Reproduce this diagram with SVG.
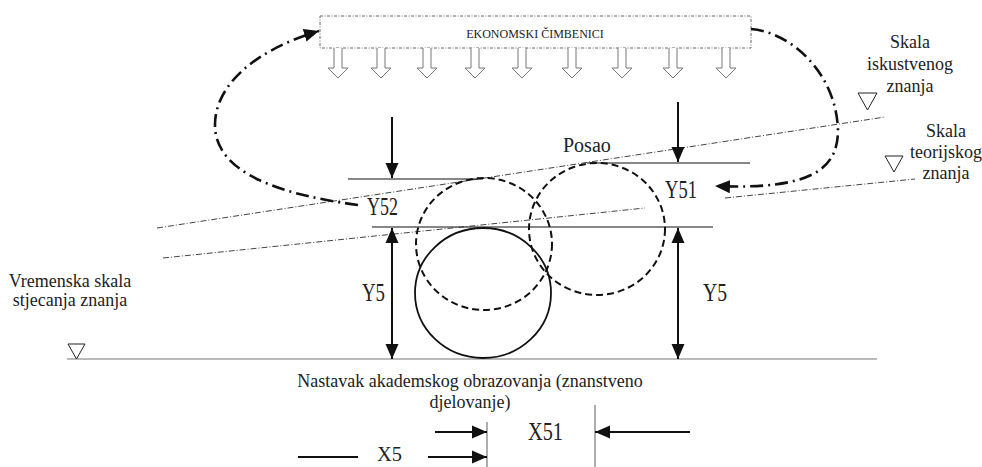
<svg xmlns="http://www.w3.org/2000/svg" width="982" height="467" viewBox="0 0 982 467" font-family="'Liberation Serif', 'DejaVu Serif', serif">
<defs>
<style>
text{font-family:"Liberation Serif","DejaVu Serif",serif;fill:#222}
.lbl{font-size:18px}
.var{font-size:25px}
.box{fill:#fff;stroke:#666;stroke-width:1;stroke-dasharray:3,1.5,1,1.5}
.hol{fill:#fff;stroke:#777;stroke-width:1}
.sol{fill:none;stroke:#111;stroke-width:2}
.thin{fill:none;stroke:#111;stroke-width:1.2}
.grey{fill:none;stroke:#777;stroke-width:1.2}
.scale{fill:none;stroke:#444;stroke-width:1;stroke-dasharray:6,2,1,2}
.loop{fill:none;stroke:#111;stroke-width:2.6;stroke-dasharray:13,5,2,5}
.dcirc{fill:none;stroke:#111;stroke-width:2;stroke-dasharray:7,4}
.circ{fill:none;stroke:#111;stroke-width:1.8}
.tri{fill:#fff;stroke:#222;stroke-width:1}
</style>
<marker id="ah" viewBox="0 0 15 14" refX="15" refY="7" markerWidth="15" markerHeight="14" markerUnits="userSpaceOnUse" orient="auto-start-reverse">
<path d="M0,0.5 L15,7 L0,13.5 z" fill="#111"/>
</marker>
<path id="hollow" class="hol" d="M-4,48 L-4,68 L-10,68 L0,78 L10,68 L4,68 L4,48"/>
</defs>

<g id="ekonomski">
<rect class="box" x="320" y="16" width="431" height="32"/>
<text x="535" y="38" font-size="12" text-anchor="middle">EKONOMSKI ČIMBENICI</text>
<use href="#hollow" x="338"/>
<use href="#hollow" x="381"/>
<use href="#hollow" x="427"/>
<use href="#hollow" x="475"/>
<use href="#hollow" x="522"/>
<use href="#hollow" x="572"/>
<use href="#hollow" x="622"/>
<use href="#hollow" x="673"/>
<use href="#hollow" x="726"/>
</g>

<g id="scales">
<line class="scale" x1="157" y1="228" x2="885" y2="117"/>
<line class="scale" x1="163" y1="258" x2="645" y2="208"/>
<line class="scale" x1="725" y1="198" x2="915" y2="179"/>
<line class="grey" x1="67" y1="359" x2="877" y2="359"/>
<polygon class="tri" points="858,93 877,93 867.5,110"/>
<polygon class="tri" points="885,156 903,156 894,172"/>
<polygon class="tri" points="68,344 85,344 76.5,359"/>
</g>

<g id="labels">
<text class="lbl" x="910" y="48" text-anchor="middle">Skala</text>
<text class="lbl" x="910" y="70" text-anchor="middle">iskustvenog</text>
<text class="lbl" x="910" y="92" text-anchor="middle">znanja</text>
<text class="lbl" x="946" y="137" text-anchor="middle">Skala</text>
<text class="lbl" x="946" y="158" text-anchor="middle">teorijskog</text>
<text class="lbl" x="946" y="179" text-anchor="middle">znanja</text>
<text class="lbl" x="70" y="287" text-anchor="middle">Vremenska skala</text>
<text class="lbl" x="70" y="306" text-anchor="middle">stjecanja znanja</text>
<text class="lbl" x="470" y="387" text-anchor="middle">Nastavak akademskog obrazovanja (znanstveno</text>
<text class="lbl" x="470" y="408" text-anchor="middle">djelovanje)</text>
<text x="563" y="152" font-size="20">Posao</text>
</g>

<g id="circles">
<ellipse class="circ" cx="483" cy="293" rx="68" ry="65"/>
<ellipse class="dcirc" cx="484" cy="244" rx="68" ry="66"/>
<ellipse class="dcirc" cx="597" cy="229" rx="68" ry="66"/>
</g>

<g id="levels">
<line class="thin" x1="348" y1="179" x2="483" y2="179"/>
<line class="thin" x1="587" y1="163" x2="750" y2="163"/>
<line class="thin" x1="372" y1="227" x2="713" y2="227"/>
<text class="var" x="367" y="215" textLength="31" lengthAdjust="spacingAndGlyphs">Y52</text>
<text class="var" x="665" y="198" textLength="32" lengthAdjust="spacingAndGlyphs">Y51</text>
<text class="var" x="362" y="301" textLength="23" lengthAdjust="spacingAndGlyphs">Y5</text>
<text class="var" x="703" y="301" textLength="24" lengthAdjust="spacingAndGlyphs">Y5</text>
</g>

<g id="xaxis">
<line class="grey" x1="487" y1="422" x2="487" y2="467"/>
<line class="grey" x1="595" y1="405" x2="595" y2="467"/>
<text class="var" x="528" y="440" textLength="35" lengthAdjust="spacingAndGlyphs">X51</text>
<text class="var" x="377" y="461" textLength="25" lengthAdjust="spacingAndGlyphs" style="font-size:20px">X5</text>
</g>

<g id="connectors">
<line class="sol" x1="392" y1="117" x2="392" y2="178" marker-end="url(#ah)"/>
<line class="sol" x1="678" y1="102" x2="678" y2="162" marker-end="url(#ah)"/>
<line class="sol" x1="392" y1="228" x2="392" y2="359" marker-start="url(#ah)" marker-end="url(#ah)"/>
<line class="sol" x1="678" y1="228" x2="678" y2="359" marker-start="url(#ah)" marker-end="url(#ah)"/>
<line class="sol" x1="435" y1="432" x2="487" y2="432" marker-end="url(#ah)"/>
<line class="sol" x1="690" y1="432" x2="595" y2="432" marker-end="url(#ah)"/>
<line class="sol" x1="298" y1="457" x2="358" y2="457"/>
<line class="sol" x1="428" y1="457" x2="487" y2="457" marker-end="url(#ah)"/>
<path class="loop" d="M358,205 C260,192 215,165 215,125 C215,85 255,50 319,31" marker-end="url(#ah)"/>
<path class="loop" d="M751,29 C790,32 836,72 838,130 C838,170 810,190 715,186" marker-end="url(#ah)"/>
</g>
</svg>
